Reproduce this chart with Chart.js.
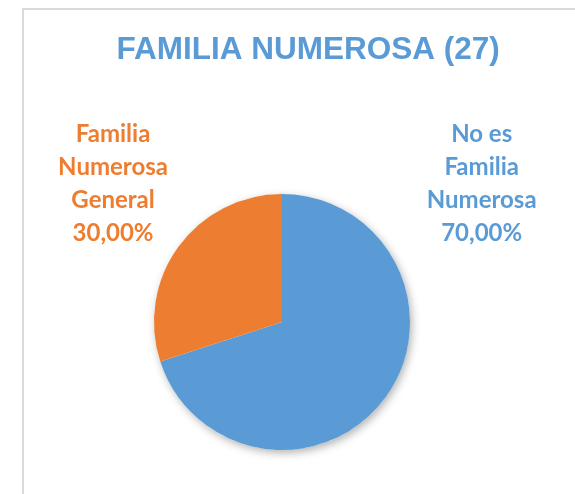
<!DOCTYPE html>
<html>
<head>
<meta charset="utf-8">
<script src="https://cdn.jsdelivr.net/npm/chart.js@4/dist/chart.umd.min.js"></script>
<style>
  html, body { margin: 0; padding: 0; background: #ffffff; overflow: hidden; }
  #frame {
    position: absolute; left: 22px; top: 8px;
    width: 700px; height: 700px;
    border: 2px solid #d9d9d9;
  }
  #wrap { position: absolute; left: 0; top: 0; width: 575px; height: 494px; }
</style>
</head>
<body>
<div id="frame"></div>
<div id="wrap"><canvas id="pieChart" width="575" height="494"></canvas></div>
<script>
// chart data
const chartTitle = 'FAMILIA NUMEROSA (27)';
const categories = ['No es Familia Numerosa', 'Familia Numerosa General'];
const labelLines = [['No es', 'Familia', 'Numerosa'], ['Familia', 'Numerosa', 'General']];
const values = [70, 30];
const colors = ['#5b9bd5', '#ed7d31'];

function formatPct(v, total) {
    return (v / total * 100).toFixed(2).replace('.', ',') + '%';
}

// soft shadow under the whole pie
const pieShadowPlugin = {
  id: 'pie_shadow',
  beforeDatasetsDraw: function(chart) {
      const arc = chart.getDatasetMeta(0).data[0];
      if (!arc) return;
      const ctx = chart.ctx;
      ctx.save();
      ctx.shadowColor = 'rgba(0, 0, 0, 0.3)';
      ctx.shadowBlur = 9;
      ctx.shadowOffsetX = 2;
      ctx.shadowOffsetY = 3;
      ctx.fillStyle = '#ffffff';
      ctx.beginPath();
      ctx.arc(arc.x, arc.y, arc.outerRadius, 0, Math.PI * 2);
      ctx.fill();
      ctx.restore();
  }
};

// title and outside labels, placed relative to the pie
const pieLabelsPlugin = {
  id: 'pie_labels',
  afterDatasetsDraw: function(chart, args, options) {
      const ctx = chart.ctx;
      const meta = chart.getDatasetMeta(0);
      const arc = meta.data[0];
      const r = arc.outerRadius;
      const total = values.reduce((a, b) => a + b, 0);

      ctx.save();
      ctx.textAlign = 'center';
      ctx.textBaseline = 'middle';

      // title
      ctx.fillStyle = colors[0];
      ctx.font = 'bold 31.5px "Liberation Sans", Arial, sans-serif';
      ctx.fillText(chartTitle, chart.width * options.titleX, options.titleY);

      // slice labels
      ctx.font = 'bold 24px Lato, "Open Sans", sans-serif';
      values.forEach(function(v, i) {
          const off = options.offsets[i];
          const x = arc.x + off[0] * r;
          let y = arc.y + off[1] * r;
          const lines = labelLines[i].concat([formatPct(v, total)]);
          ctx.fillStyle = colors[i];
          lines.forEach(function(line) {
              ctx.fillText(line, x, y);
              y += options.lineHeight;
          });
      });
      ctx.restore();
  }
};

Chart.register(pieShadowPlugin, pieLabelsPlugin);

new Chart(document.getElementById('pieChart'), {
  type: 'pie',
  data: {
    labels: categories,
    datasets: [{
      data: values,
      backgroundColor: colors,
      borderWidth: 0,
      hoverOffset: 0
    }]
  },
  options: {
    responsive: false,
    animation: false,
    layout: {
      padding: { top: 194, bottom: 44, left: 154, right: 165 }
    },
    plugins: {
      legend: { display: false },
      title: { display: false },
      tooltip: { enabled: false },
      pie_labels: {
        titleX: 0.536,
        titleY: 50,
        lineHeight: 33,
        offsets: [[1.56, -1.47], [-1.32, -1.47]]
      }
    }
  }
});
</script>
</body>
</html>
